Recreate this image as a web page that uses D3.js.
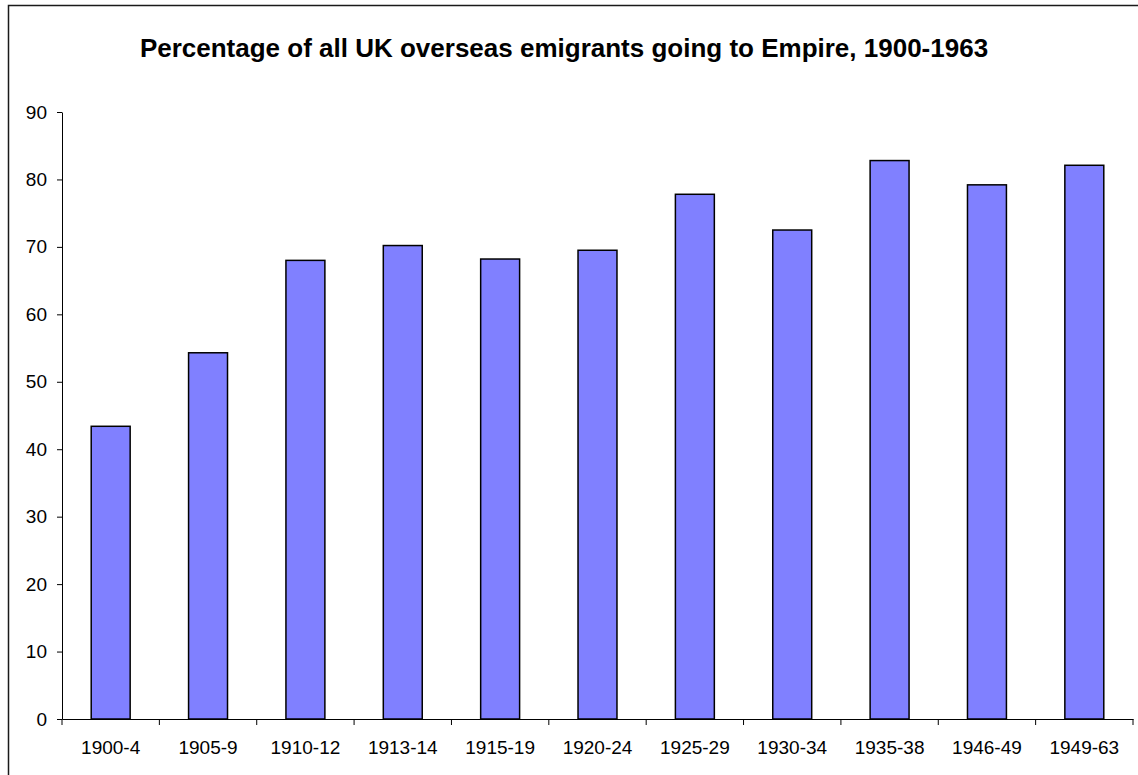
<!DOCTYPE html>
<html>
<head>
<meta charset="utf-8">
<script src="https://cdn.jsdelivr.net/npm/d3@7"></script>
<style>
  body { margin: 0; background: #fff; }
  svg { display: block; font-family: "Liberation Sans", Arial, sans-serif; }
</style>
</head>
<body>
<div id="chart"></div>
<script>
// data
const periods = ["1900-4", "1905-9", "1910-12", "1913-14", "1915-19", "1920-24",
                 "1925-29", "1930-34", "1935-38", "1946-49", "1949-63"];
const empireShare = [43.4, 54.3, 68.0, 70.2, 68.2, 69.5, 77.8, 72.5, 82.8, 79.2, 82.1];
const yTicks = [0, 10, 20, 30, 40, 50, 60, 70, 80, 90];
const title = "Percentage of all UK overseas emigrants going to Empire, 1900-1963";

const width = 1138, height = 775;
const margin = { top: 112, right: 5, bottom: 56, left: 62 };

const svg = d3.select("#chart").append("svg")
  .attr("width", width)
  .attr("height", height);

// outer chart border (runs off the right/bottom edge like the original)
svg.append("rect")
  .attr("x", 8.5).attr("y", 5.5)
  .attr("width", width + 10).attr("height", height + 10)
  .attr("fill", "none")
  .attr("stroke", "#1a1a1a")
  .attr("stroke-width", 1.5);

svg.append("text")
  .attr("x", 564)
  .attr("y", 57)
  .attr("text-anchor", "middle")
  .attr("font-size", 26)
  .attr("font-weight", "bold")
  .text(title);

const x = d3.scaleBand()
  .domain(periods)
  .range([margin.left, width - margin.right])
  .paddingInner(0.6)
  .paddingOuter(0.3);

const y = d3.scaleLinear()
  .domain([0, 90])
  .range([height - margin.bottom, margin.top]);

// y axis
const yAxis = svg.append("g")
  .attr("transform", `translate(${margin.left},0)`)
  .call(d3.axisLeft(y).tickValues(yTicks).tickSize(5).tickPadding(10).tickSizeOuter(0));
yAxis.selectAll("text").attr("font-size", 19).attr("fill", "#000");
yAxis.selectAll("line, path").attr("stroke", "#000");

// bars
svg.append("g")
  .selectAll("rect")
  .data(periods)
  .join("rect")
  .attr("x", d => x(d))
  .attr("y", (d, i) => y(empireShare[i]))
  .attr("width", x.bandwidth())
  .attr("height", (d, i) => y(0) - y(empireShare[i]))
  .attr("fill", "#8080ff")
  .attr("stroke", "#000")
  .attr("stroke-width", 1.5);

// x axis: labels centred, tick marks between categories
const xAxis = svg.append("g")
  .attr("transform", `translate(0,${y(0)})`)
  .call(d3.axisBottom(x).tickSize(0).tickPadding(22).tickSizeOuter(0));
xAxis.selectAll("text").attr("font-size", 19).attr("fill", "#000");
xAxis.select(".domain").attr("stroke", "#000");

const step = x.step();
const bounds = periods.map(d => x(d) - step * x.paddingOuter()).concat([width - margin.right]);
xAxis.selectAll("line.sep")
  .data(bounds)
  .join("line")
  .attr("class", "sep")
  .attr("x1", d => d).attr("x2", d => d)
  .attr("y1", 0).attr("y2", 6)
  .attr("stroke", "#000");
</script>
</body>
</html>
